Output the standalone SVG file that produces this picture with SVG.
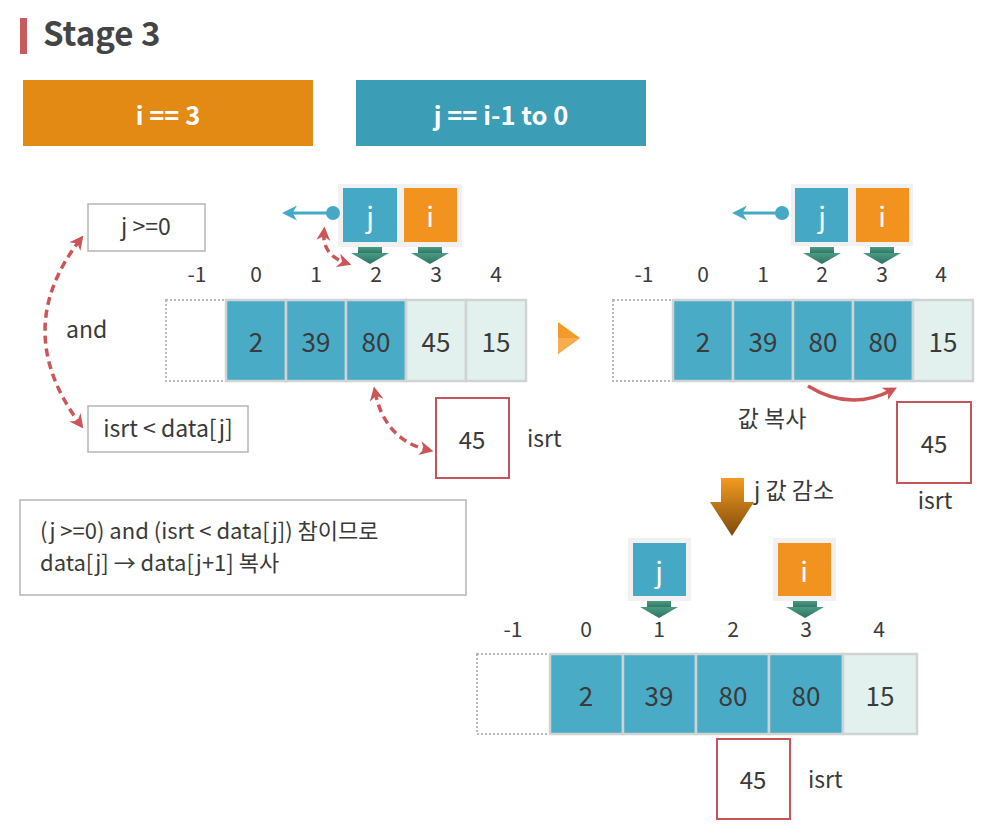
<svg xmlns="http://www.w3.org/2000/svg" width="993" height="829" viewBox="0 0 993 829">
<style>
text{font-family:"Noto Sans CJK KR","Noto Sans",sans-serif;fill:#3a3a3a}
.idx{font-size:21px;text-anchor:middle}
.val{font-size:26px;text-anchor:middle;dominant-baseline:central}
.lbl{font-size:23px}
.t{fill:#4aabc6;stroke:#cfd3d3;stroke-width:2.5}
.l{fill:#e3f1ee;stroke:#cfd3d3;stroke-width:2.5}
.dot{fill:#fff;stroke:#b8b8b8;stroke-width:2;stroke-dasharray:2 2}
.bx{fill:#fff;stroke:#b5b5b5;stroke-width:1.5}
.rb{fill:#fff;stroke:#c5555a;stroke-width:2}
.ptr{font-size:28px;fill:#fff;text-anchor:middle;dominant-baseline:central}
.rd{fill:none;stroke:#cc5558;stroke-width:3.5;stroke-dasharray:8 5}
</style>
<defs>
<linearGradient id="gg" x1="0" y1="0" x2="0" y2="1"><stop offset="0" stop-color="#4a9c84"/><stop offset="1" stop-color="#2c7262"/></linearGradient>
<linearGradient id="bg" gradientUnits="userSpaceOnUse" x1="0" y1="478" x2="0" y2="536"><stop offset="0" stop-color="#f29b20"/><stop offset="1" stop-color="#7e4a0c"/></linearGradient>
<marker id="ra" viewBox="0 0 10 10" refX="6" refY="5" markerWidth="4" markerHeight="4" orient="auto-start-reverse"><path d="M0,0 L10,5 L0,10 L3,5 Z" fill="#cc5558"/></marker>
<marker id="ba" viewBox="0 0 10 10" refX="6" refY="5" markerWidth="5" markerHeight="5" orient="auto"><path d="M0,0 L10,5 L0,10 L3,5 Z" fill="#45a9c6"/></marker>
<g id="garrow"><rect x="-12" y="0" width="24" height="7" fill="url(#gg)"/><path d="M-19,6 L19,6 L0,17 Z" fill="url(#gg)"/></g>
</defs>

<g id="title">
<rect x="20" y="18" width="7" height="36" fill="#c85a5e"/>
<text x="43" y="46" style="font-size:33px;font-weight:bold;fill:#444">Stage 3</text>
</g>

<g id="hdr-i">
<rect x="23" y="80" width="290" height="66" fill="#e38a14"/>
<text x="168" y="113" style="font-size:25.5px;font-weight:bold;fill:#fff;text-anchor:middle;dominant-baseline:central">i == 3</text>
</g>
<g id="hdr-j">
<rect x="356" y="80" width="290" height="66" fill="#3b9db6"/>
<text x="501" y="113" style="font-size:25.5px;font-weight:bold;fill:#fff;text-anchor:middle;dominant-baseline:central">j == i-1 to 0</text>
</g>

<g id="cond-j">
<rect class="bx" x="88" y="204" width="117" height="47"/>
<text class="lbl" x="146" y="235" text-anchor="middle">j &gt;=0</text>
</g>
<g id="cond-isrt">
<rect class="bx" x="88" y="406" width="160" height="46"/>
<text class="lbl" x="168" y="437" text-anchor="middle">isrt &lt; data[j]</text>
</g>
<text class="lbl" x="66" y="338">and</text>

<g id="array1">
<text class="idx" x="197" y="282">-1</text>
<text class="idx" x="256" y="282">0</text>
<text class="idx" x="316" y="282">1</text>
<text class="idx" x="376" y="282">2</text>
<text class="idx" x="436" y="282">3</text>
<text class="idx" x="496" y="282">4</text>
<rect class="dot" x="166" y="300" width="60" height="81"/>
<rect class="t" x="226" y="300" width="60" height="81"/>
<rect class="t" x="286" y="300" width="60" height="81"/>
<rect class="t" x="346" y="300" width="60" height="81"/>
<rect class="l" x="406" y="300" width="60" height="81"/>
<rect class="l" x="466" y="300" width="60" height="81"/>
<text class="val" x="256" y="340">2</text>
<text class="val" x="316" y="340">39</text>
<text class="val" x="376" y="340">80</text>
<text class="val" x="436" y="340">45</text>
<text class="val" x="496" y="340">15</text>
</g>
<g id="ptr1">
<rect x="338" y="184" width="124" height="63" fill="#f1f1f1"/>
<rect x="343" y="188" width="54" height="54" fill="#45a9c6"/>
<rect x="404" y="188" width="53" height="54" fill="#f2931f"/>
<text class="ptr" x="370" y="215">j</text>
<text class="ptr" x="430" y="215">i</text>
<use href="#garrow" x="370" y="247"/>
<use href="#garrow" x="430" y="247"/>
</g>
<g id="isrt1">
<rect class="rb" x="436" y="398" width="73" height="80"/>
<text class="val" x="472" y="438" style="font-size:24px">45</text>
<text class="lbl" x="527" y="447">isrt</text>
</g>

<g id="play">
<polygon points="558,322 580,338 558,354" fill="#f29b2a"/>
<polygon points="558,338 580,338 558,354" fill="#f6ad4e"/>
</g>

<g id="array2">
<text class="idx" x="644" y="282">-1</text>
<text class="idx" x="703" y="282">0</text>
<text class="idx" x="763" y="282">1</text>
<text class="idx" x="822" y="282">2</text>
<text class="idx" x="882" y="282">3</text>
<text class="idx" x="941" y="282">4</text>
<rect class="dot" x="613" y="300" width="60" height="81"/>
<rect class="t" x="673" y="300" width="60" height="81"/>
<rect class="t" x="733" y="300" width="60" height="81"/>
<rect class="t" x="793" y="300" width="60" height="81"/>
<rect class="t" x="853" y="300" width="60" height="81"/>
<rect class="l" x="913" y="300" width="60" height="81"/>
<text class="val" x="703" y="340">2</text>
<text class="val" x="763" y="340">39</text>
<text class="val" x="823" y="340">80</text>
<text class="val" x="883" y="340">80</text>
<text class="val" x="943" y="340">15</text>
</g>
<g id="ptr2">
<rect x="791" y="184" width="122" height="62" fill="#f1f1f1"/>
<rect x="795" y="188" width="53" height="54" fill="#45a9c6"/>
<rect x="856" y="188" width="53" height="54" fill="#f2931f"/>
<text class="ptr" x="822" y="215">j</text>
<text class="ptr" x="882" y="215">i</text>
<use href="#garrow" x="822" y="247"/>
<use href="#garrow" x="882" y="247"/>
</g>
<g id="isrt2">
<rect class="rb" x="897" y="402" width="74" height="81"/>
<text class="val" x="934" y="442" style="font-size:24px">45</text>
<text class="lbl" x="935" y="509" text-anchor="middle">isrt</text>
</g>
<text class="lbl" x="772" y="427" text-anchor="middle">값 복사</text>

<g id="down">
<rect x="721" y="478" width="23" height="25" fill="url(#bg)"/>
<path d="M710,502 L754,502 L732,536 Z" fill="url(#bg)"/>
</g>
<text class="lbl" x="754" y="499">j 값 감소</text>

<g id="array3">
<text class="idx" x="513" y="637">-1</text>
<text class="idx" x="586" y="637">0</text>
<text class="idx" x="659" y="637">1</text>
<text class="idx" x="733" y="637">2</text>
<text class="idx" x="806" y="637">3</text>
<text class="idx" x="879" y="637">4</text>
<rect class="dot" x="477" y="654" width="73" height="80"/>
<rect class="t" x="550" y="654" width="73" height="80"/>
<rect class="t" x="623" y="654" width="73" height="80"/>
<rect class="t" x="696" y="654" width="73" height="80"/>
<rect class="t" x="769" y="654" width="74" height="80"/>
<rect class="l" x="843" y="654" width="74" height="80"/>
<text class="val" x="586" y="694">2</text>
<text class="val" x="659" y="694">39</text>
<text class="val" x="733" y="694">80</text>
<text class="val" x="806" y="694">80</text>
<text class="val" x="880" y="694">15</text>
</g>
<g id="ptr3j">
<rect x="628" y="538" width="63" height="63" fill="#f1f1f1"/>
<rect x="633" y="543" width="53" height="53" fill="#45a9c6"/>
<text class="ptr" x="659" y="570">j</text>
<use href="#garrow" x="659" y="601"/>
</g>
<g id="ptr3i">
<rect x="773" y="538" width="63" height="63" fill="#f1f1f1"/>
<rect x="778" y="543" width="53" height="53" fill="#f2931f"/>
<text class="ptr" x="804" y="570">i</text>
<use href="#garrow" x="805" y="601"/>
</g>
<g id="isrt3">
<rect class="rb" x="717" y="739" width="73" height="80"/>
<text class="val" x="753" y="778" style="font-size:24px">45</text>
<text class="lbl" x="808" y="788">isrt</text>
</g>

<g id="note">
<rect class="bx" x="20" y="500" width="446" height="95"/>
<text x="40" y="539" style="font-size:22px">(j &gt;=0) and (isrt &lt; data[j]) 참이므로</text>
<text x="40" y="571" style="font-size:22px">data[j] → data[j+1] 복사</text>
</g>

<g id="connectors">
<line x1="333" y1="213" x2="288" y2="213" stroke="#45a9c6" stroke-width="3" marker-end="url(#ba)"/>
<circle cx="333" cy="213" r="7" fill="#45a9c6"/>
<line x1="782" y1="213" x2="738" y2="213" stroke="#45a9c6" stroke-width="3" marker-end="url(#ba)"/>
<circle cx="782" cy="213" r="7" fill="#45a9c6"/>
<path class="rd" d="M324,232 Q322,255 346,263" marker-start="url(#ra)" marker-end="url(#ra)"/>
<path class="rd" d="M80,240 Q10,330 80,424" marker-start="url(#ra)" marker-end="url(#ra)"/>
<path class="rd" d="M375,392 Q385,440 428,450" marker-start="url(#ra)" marker-end="url(#ra)"/>
<path d="M808,386 Q850,412 892,390" fill="none" stroke="#cc5558" stroke-width="3.5" marker-end="url(#ra)"/>
</g>
</svg>
